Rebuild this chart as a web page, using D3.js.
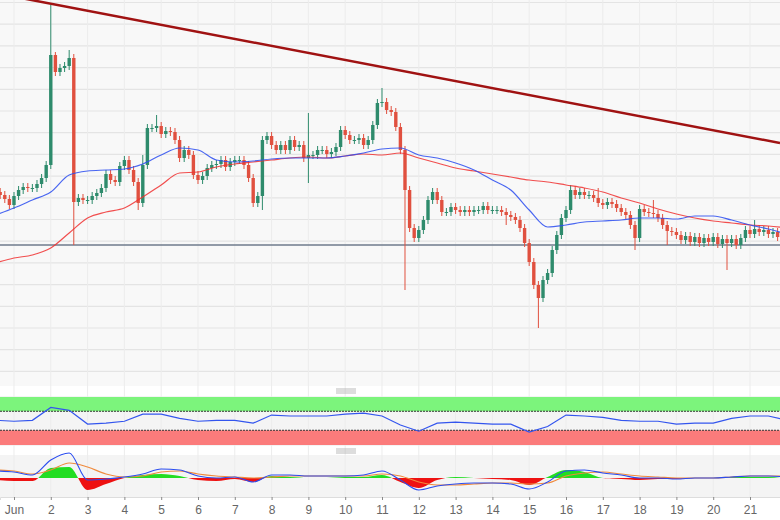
<!DOCTYPE html>
<html>
<head>
<meta charset="utf-8">
<script src="https://cdn.jsdelivr.net/npm/d3@7"></script>
<style>
  body { margin: 0; background: #fff; }
  svg { display: block; font-family: "Liberation Sans", Arial, sans-serif; }
</style>
</head>
<body>
<div class="interactive"></div>
<script>
// 3h candles, first one at day -0.375 (days counted from Jun 1)
const candleStart = -0.375
const candleStep = 1 / 8
const closes = [205,201,195,204,210,213,212,212,216,222,235,345,328,332,334,342,198,202,200,200,
  204,207,212,226,220,218,234,240,230,218,197,235,272,272,274,266,269,268,260,242,
  250,245,225,220,224,232,235,236,240,233,238,240,240,235,222,197,204,260,264,255,
  250,255,250,260,253,255,242,245,245,250,250,246,248,253,270,265,260,260,262,255,
  260,275,297,298,290,288,273,250,210,172,162,170,180,200,208,200,188,188,193,190,
  188,190,188,190,190,194,190,190,190,188,185,183,180,172,157,138,115,102,120,127,
  150,165,182,190,210,205,208,205,205,202,197,195,198,196,192,188,185,175,162,191,
  188,187,186,182,175,169,168,165,160,164,158,163,157,162,158,163,156,161,157,161,
  155,162,170,166,171,168,170,166,168,163]
const firstOpen = 208
// [candle index, high] and [candle index, low] for the long wicks
const wickHighs = [[11, 395], [12, 348], [15, 350], [34, 285], [67, 287], [83, 312], [31, 245], [124, 215], [130, 212], [142, 200], [164, 180]]
const wickLows = [[16, 155], [88, 110], [117, 72], [138, 150], [158, 130], [57, 190], [67, 217], [110, 175], [30, 190], [145, 155]]

// half-day samples, day -0.5 .. 21
const halfDays = d3.range(-0.5, 21.01, 0.5)
const ma50 = [185,192,200,208,225,229,230,231,236,245,252,250,240,238,239,241,242,242,242,244,247,251,252,245,242,237,230,220,210,190,173,175,178,179,180,182,182,181,184,184,180,175,171,166]
const ma200 = [137,142,145,152,167,182,188,192,203,215,227,228,233,236,238,240,242,243,242,244,246,245,247,242,237,232,229,226,223,220,218,215,212,208,202,197,191,186,182,179,177,175,174,172]
const rsi = [51,49,51,78,72,43,45,49,64,64,55,49,51,51,45,62,60,60,60,64,66,60,41,28,45,47,45,43,43,26,38,62,60,57,51,49,49,43,45,45,55,60,60,51]
const macd = [7,6,3,18,25,-2,-1,1,4,9,8,2,0,1,-4,3,3,2,2,2,3,7,-2,-12,-8,-6,-5,-5,-6,-11,-4,7,8,5,3,0,0,-1,0,0,1,2,2,1]
const signal = [8,7,4,8,15,11,4,1,2,6,7,4,2,1,0,1,2,2,2,2,2,4,2,-4,-7,-7,-6,-5,-5,-6,-5,2,5,6,4,2,1,0,0,0,1,2,2,2]
const hist = [-2,-3,-3,10,11,-12,-6,0,3,4,2,-2,-3,-1,-4,2,1,0,0,1,1,3,-4,-10,-2,1,0,-1,-2,-7,1,8,6,0,-1,-2,-1,-1,0,0,1,1,1,-1]

const dayTicks = d3.range(0, 21)
const dayLabels = ["Jun", "2", "3", "4", "5", "6", "7", "8", "9", "10", "11", "12", "13", "14", "15", "16", "17", "18", "19", "20", "21"]

// trend line ends, [day, price]
const trend = [[-0.38, 406], [20.815, 257]]
const baseLevel = 155

const width = 780
const height = 520

const svg = d3.select(".interactive").append("svg")
  .attr("width", width)
  .attr("height", height)

const x = d3.scaleLinear().domain([-0.38, 20.815]).range([0, width])
const y = d3.scaleLinear().domain([15, 400]).range([385, 0])
const yRsi = d3.scaleLinear().domain([-1, 100]).range([445, 397])
const yMacd = d3.scaleLinear().domain([-18, 22]).range([496, 456])

// panel backgrounds
svg.append("rect").attr("x", 0).attr("y", 0).attr("width", width).attr("height", 386).attr("fill", "#f8f8f8")
svg.append("rect").attr("x", 0).attr("y", 396).attr("width", width).attr("height", 50).attr("fill", "#f4f4f4")
svg.append("rect").attr("x", 0).attr("y", 455).attr("width", width).attr("height", 42).attr("fill", "#f4f4f4")

// grid
const gridVals = d3.range(-5, 18).map(k => y.invert(2.5 + 21.7 * k)).filter(v => y(v) > 0 && y(v) < 386)
svg.append("g").selectAll("line").data(gridVals).join("line")
  .attr("x1", 0).attr("x2", width)
  .attr("y1", d => y(d)).attr("y2", d => y(d))
  .attr("stroke", "#e4e4e4").attr("stroke-width", 1.2)

svg.append("g").selectAll("line").data(dayTicks).join("line")
  .attr("x1", d => x(d)).attr("x2", d => x(d))
  .attr("y1", 0).attr("y2", 497)
  .attr("stroke", "#ececec").attr("stroke-width", 1)

// horizontal level
svg.append("line")
  .attr("x1", 0).attr("x2", width)
  .attr("y1", y(baseLevel)).attr("y2", y(baseLevel))
  .attr("stroke", "#6f7b8c").attr("stroke-width", 1.3)

// candles
const candles = closes.map((c, i) => {
  const o = i === 0 ? firstOpen : closes[i - 1]
  let h = Math.max(o, c) + 4
  let l = Math.min(o, c) - 4
  const wh = wickHighs.find(w => w[0] === i)
  const wl = wickLows.find(w => w[0] === i)
  if (wh) h = wh[1]
  if (wl) l = wl[1]
  return { t: candleStart + i * candleStep, o, h, l, c }
})

const cg = svg.append("g")
cg.selectAll("line").data(candles).join("line")
  .attr("x1", d => x(d.t)).attr("x2", d => x(d.t))
  .attr("y1", d => y(d.h)).attr("y2", d => y(d.l))
  .attr("stroke", d => d.c >= d.o ? "#2e8b6c" : "#e0503f")
  .attr("stroke-width", 1)
cg.selectAll("rect").data(candles).join("rect")
  .attr("x", d => x(d.t) - 1.7)
  .attr("width", 3.4)
  .attr("y", d => y(Math.max(d.o, d.c)))
  .attr("height", d => Math.max(1, Math.abs(y(d.o) - y(d.c))))
  .attr("fill", d => d.c >= d.o ? "#2e8b6c" : "#e0503f")

// moving averages
const maLine = d3.line().x((d, i) => x(halfDays[i])).curve(d3.curveMonotoneX)
svg.append("path").attr("d", maLine.y(d => y(d))(ma200))
  .attr("fill", "none").attr("stroke", "#f03030").attr("stroke-width", 1.2).attr("opacity", 0.85)
svg.append("path").attr("d", maLine.y(d => y(d))(ma50))
  .attr("fill", "none").attr("stroke", "#2a4cf0").attr("stroke-width", 1.2).attr("opacity", 0.85)

// trend line
svg.append("line")
  .attr("x1", x(trend[0][0])).attr("y1", y(trend[0][1]))
  .attr("x2", x(trend[1][0])).attr("y2", y(trend[1][1]))
  .attr("stroke", "#a01212").attr("stroke-width", 2.5)

// panel grips
function grip(gy) {
  [0, 2, 4].forEach(k => {
    svg.append("line").attr("x1", 336).attr("x2", 356)
      .attr("y1", gy + k).attr("y2", gy + k)
      .attr("stroke", "#aaa").attr("stroke-width", 0.8)
  })
}
grip(389)
grip(449)

// RSI
svg.append("rect").attr("x", 0).attr("width", width)
  .attr("y", yRsi(100)).attr("height", yRsi(70) - yRsi(100)).attr("fill", "#7cf47c")
svg.append("rect").attr("x", 0).attr("width", width)
  .attr("y", yRsi(30)).attr("height", yRsi(-1) - yRsi(30)).attr("fill", "#fb7b7b")
;[70, 30].forEach(v => {
  svg.append("line").attr("x1", 0).attr("x2", width)
    .attr("y1", yRsi(v)).attr("y2", yRsi(v))
    .attr("stroke", "#333").attr("stroke-dasharray", "2,1").attr("stroke-width", 1)
})
svg.append("path")
  .attr("d", d3.line().x((d, i) => x(halfDays[i])).y(d => yRsi(d))(rsi))
  .attr("fill", "none").attr("stroke", "#3355ee").attr("stroke-width", 1.2)

// MACD histogram
const histArea = d3.area().x((d, i) => x(halfDays[i])).y0(yMacd(0)).y1(d => yMacd(d)).curve(d3.curveMonotoneX)
const defs = svg.append("defs")
defs.append("clipPath").attr("id", "pos").append("rect")
  .attr("x", 0).attr("y", 0).attr("width", width).attr("height", yMacd(0))
defs.append("clipPath").attr("id", "neg").append("rect")
  .attr("x", 0).attr("y", yMacd(0)).attr("width", width).attr("height", 60)
svg.append("path").attr("d", histArea(hist)).attr("fill", "#22dd22").attr("clip-path", "url(#pos)")
svg.append("path").attr("d", histArea(hist)).attr("fill", "#ee1111").attr("clip-path", "url(#neg)")

const macdLine = d3.line().x((d, i) => x(halfDays[i])).y(d => yMacd(d)).curve(d3.curveMonotoneX)
svg.append("path").attr("d", macdLine(signal))
  .attr("fill", "none").attr("stroke", "#f08a3c").attr("stroke-width", 1.1)
svg.append("path").attr("d", macdLine(macd))
  .attr("fill", "none").attr("stroke", "#2a4cf0").attr("stroke-width", 1.1)

// x axis
const xAxis = d3.axisBottom(x).tickValues(dayTicks).tickFormat((d, i) => dayLabels[i]).tickSize(3)
const ax = svg.append("g").attr("transform", "translate(0,497)").call(xAxis)
ax.select(".domain").attr("stroke", "#ddd")
ax.selectAll(".tick line").attr("stroke", "#888")
ax.selectAll("text").attr("fill", "#666").attr("font-size", 12).attr("dy", "0.9em")
</script>
</body>
</html>
